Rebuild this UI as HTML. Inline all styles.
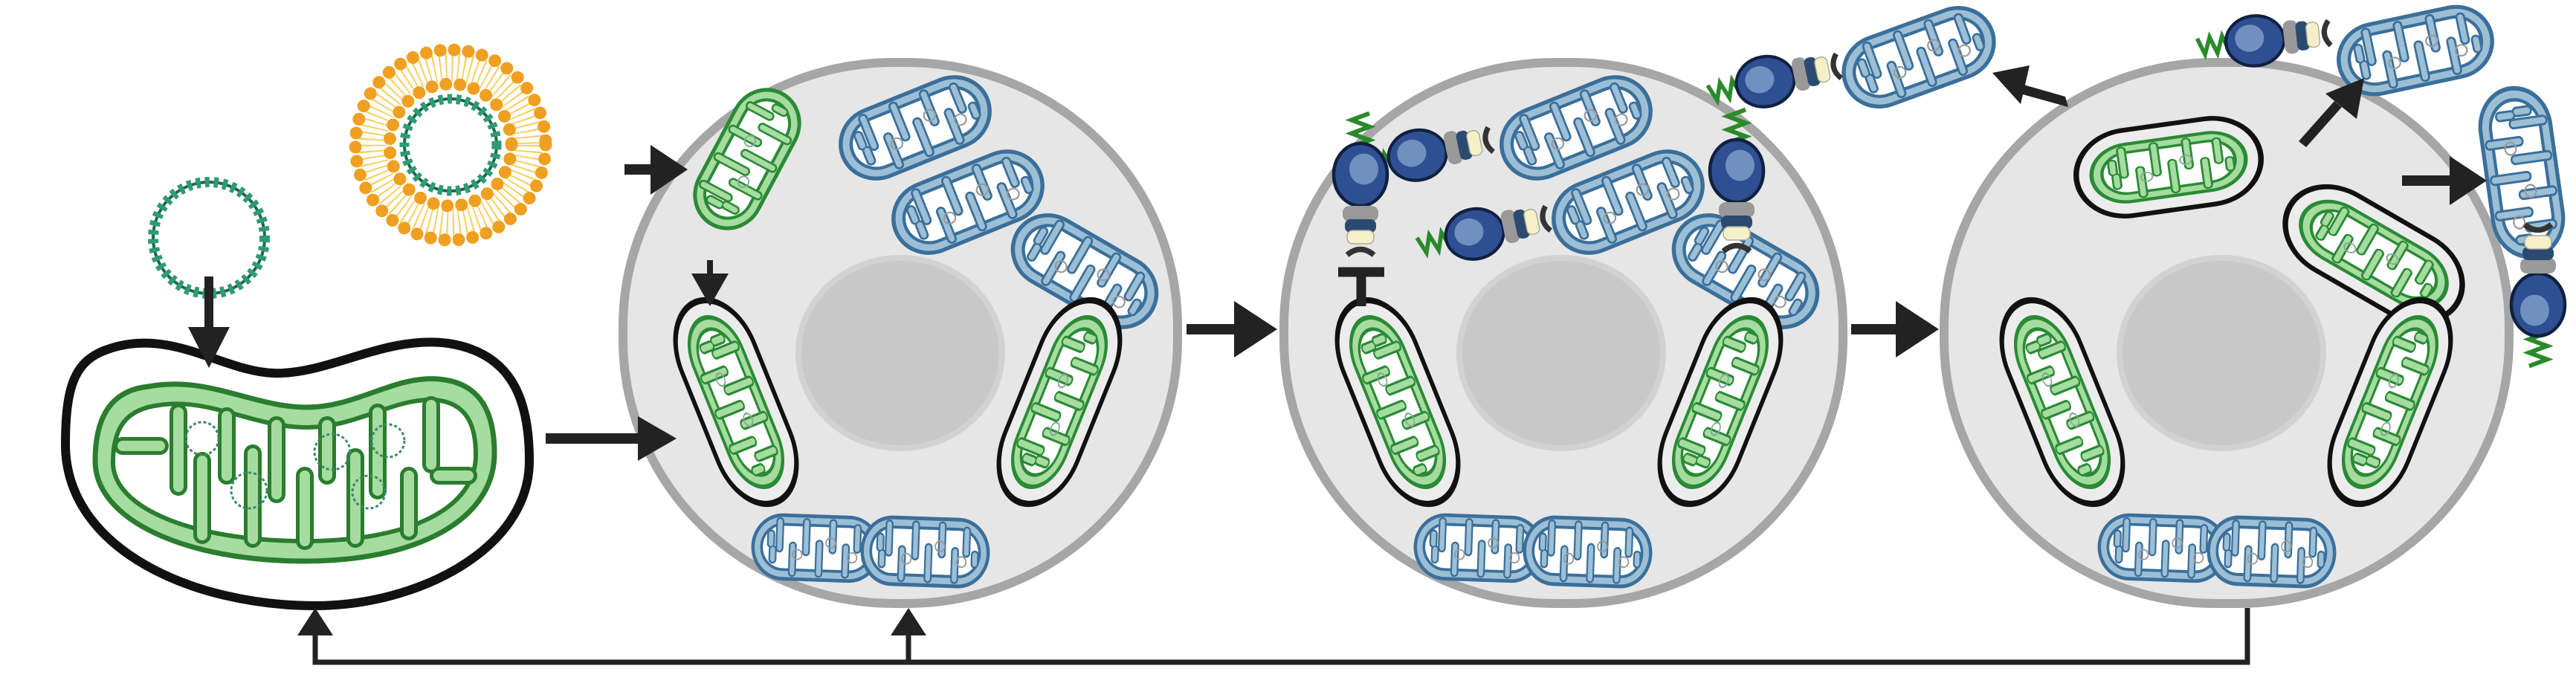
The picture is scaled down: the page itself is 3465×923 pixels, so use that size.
<!DOCTYPE html>
<html><head><meta charset="utf-8"><style>html,body{margin:0;padding:0;background:#fff}svg{display:block}</style></head>
<body>
<svg width="3465" height="923" viewBox="0 0 3465 923" xmlns="http://www.w3.org/2000/svg">
<defs>
  <g id="cri">
    <path d="M-55,-36V2M-15,-36V6M25,-36V2M62,-30V0M-68,-18V-4M-35,36V-2M5,36V-6M45,36V-2M-65,18V4M75,14V2" fill="none"/>
  </g>
  <g id="mb">
    <rect x="-95" y="-45" width="190" height="90" rx="45" fill="#9dbfd6" stroke="#3a6f9a" stroke-width="5"/>
    <rect x="-82" y="-32" width="164" height="64" rx="32" fill="#fff" stroke="#3a6f9a" stroke-width="4"/>
    <use href="#cri" stroke="#3a6f9a" stroke-width="12" stroke-linecap="round"/>
    <use href="#cri" stroke="#9dbfd6" stroke-width="7" stroke-linecap="round"/>
    <circle cx="-28" cy="10" r="7" fill="none" stroke="#999" stroke-width="2"/>
    <circle cx="22" cy="-8" r="7" fill="none" stroke="#999" stroke-width="2"/>
    <circle cx="55" cy="12" r="7" fill="none" stroke="#999" stroke-width="2"/>
  </g>
  <g id="mg">
    <rect x="-95" y="-45" width="190" height="90" rx="45" fill="#a6dca0" stroke="#2a8a35" stroke-width="5"/>
    <rect x="-82" y="-32" width="164" height="64" rx="32" fill="#fff" stroke="#2a8a35" stroke-width="4"/>
    <use href="#cri" stroke="#2a8a35" stroke-width="12" stroke-linecap="round"/>
    <use href="#cri" stroke="#a6dca0" stroke-width="7" stroke-linecap="round"/>
    <circle cx="-28" cy="10" r="7" fill="none" stroke="#8a9" stroke-width="2"/>
    <circle cx="22" cy="-8" r="7" fill="none" stroke="#8a9" stroke-width="2"/>
  </g>
  <g id="mk">
    <rect x="-100" y="-55" width="200" height="110" rx="55" fill="#ececec" stroke="#111" stroke-width="6"/>
    <use href="#mg" transform="scale(0.88,0.82)"/>
  </g>
  <g id="mdb">
    <use href="#mb" transform="translate(-70,0) scale(0.85,1)"/>
    <use href="#mb" transform="translate(70,0) scale(0.85,1.05)"/>
  </g>
  <g id="prot">
    <path d="M-75,-8l6,16l6,-16l6,16l6,-16l6,16l6,-16" fill="none" stroke="#2a8a2a" stroke-width="4"/>
    <ellipse cx="-20" cy="0" rx="28" ry="24" fill="#2e4f92" stroke="#102040" stroke-width="3"/>
    <ellipse cx="-25" cy="-3" rx="14" ry="13" fill="#7090c0"/>
    <rect x="8" y="-16" width="14" height="32" rx="6" fill="#999"/>
    <rect x="20" y="-14" width="12" height="28" rx="5" fill="#2a4a70"/>
    <rect x="30" y="-12" width="12" height="24" rx="5" fill="#f5f0c8" stroke="#aa9" stroke-width="1"/>
    <path d="M52,-12q-10,12 0,24" fill="none" stroke="#333" stroke-width="5"/>
  </g>
</defs>

<!-- cells -->
<g fill="#e6e6e6" stroke="#a6a6a6" stroke-width="12">
  <rect x="838" y="84" width="746" height="728" rx="365" ry="355"/>
  <rect x="1727" y="84" width="752" height="728" rx="365" ry="355"/>
  <rect x="2615" y="84" width="760" height="728" rx="365" ry="355"/>
</g>
<g fill="#c8c8c8" stroke="#d2d2d2" stroke-width="8">
  <ellipse cx="1211" cy="475" rx="137" ry="128"/>
  <ellipse cx="2100" cy="475" rx="137" ry="128"/>
  <ellipse cx="2988" cy="475" rx="137" ry="128"/>
</g>

<!-- cell1 mitos -->
<use href="#mg" transform="translate(1005,214) rotate(-62) scale(1.05,1)"/>
<use href="#mb" transform="translate(1231,172) rotate(-22) scale(1.1,1.05)"/>
<use href="#mb" transform="translate(1302,272) rotate(-22) scale(1.1,1.05)"/>
<use href="#mb" transform="translate(1459,365) rotate(30) scale(1.1,1.05)"/>
<use href="#mk" transform="translate(990,541) rotate(68) scale(1.45,0.95)"/>
<use href="#mk" transform="translate(1425,541) rotate(-68) scale(1.45,0.95)"/>
<use href="#mdb" transform="translate(1171,740) rotate(2) scale(1.05,0.95)"/>

<!-- cell2 mitos -->
<use href="#mb" transform="translate(2120,172) rotate(-22) scale(1.1,1.05)"/>
<use href="#mb" transform="translate(2190,272) rotate(-22) scale(1.1,1.05)"/>
<use href="#mb" transform="translate(2348,365) rotate(30) scale(1.1,1.05)"/>
<use href="#mk" transform="translate(1880,541) rotate(68) scale(1.45,0.95)"/>
<use href="#mk" transform="translate(2314,541) rotate(-68) scale(1.45,0.95)"/>
<use href="#mdb" transform="translate(2062,740) rotate(2) scale(1.05,0.95)"/>

<!-- cell3 mitos -->
<use href="#mk" transform="translate(2917,225) rotate(-8) scale(1.25,1.05)"/>
<use href="#mk" transform="translate(3193,342) rotate(30) scale(1.3,1.05)"/>
<use href="#mk" transform="translate(2774,541) rotate(68) scale(1.45,0.95)"/>
<use href="#mk" transform="translate(3215,541) rotate(-68) scale(1.45,0.95)"/>
<use href="#mdb" transform="translate(2982,740) rotate(2) scale(1.05,0.95)"/>

<!-- outside mitos -->
<use href="#mb" transform="translate(2581,77) rotate(-20) scale(1.1,1.05)"/>
<use href="#mb" transform="translate(3249,68) rotate(-12) scale(1.1,1.05)"/>
<use href="#mb" transform="translate(3392,232) rotate(82) scale(1.2,1.05)"/>

<!-- proteins -->
<use href="#prot" transform="translate(1934,203) rotate(-12) scale(1.4)"/>
<use href="#prot" transform="translate(2011,309) rotate(-12) scale(1.4)"/>
<use href="#prot" transform="translate(1830,265) rotate(90) scale(1.5)"/>
<use href="#prot" transform="translate(2336,260) rotate(90) scale(1.5)"/>
<use href="#prot" transform="translate(2402,104) rotate(-12) scale(1.4)"/>
<use href="#prot" transform="translate(3061,52) rotate(-6) scale(1.4)"/>
<use href="#prot" transform="translate(3414,380) rotate(-90) scale(1.5)"/>
<!-- inhibitor T -->
<path d="M1800,366H1862M1831,366V412" stroke="#222" stroke-width="13" fill="none"/>

<!-- big mito -->
<path d="M145,470 C230,440 300,500 368,502 C440,505 520,450 603,462 C690,475 712,540 712,620 C712,740 560,815 424,815 C260,815 90,740 88,600 C88,520 100,485 145,470 Z" fill="#fff" stroke="#111" stroke-width="12"/>
<path d="M200,520 C280,505 340,548 413,548 C480,548 530,505 590,510 C650,515 665,560 665,610 C665,700 560,755 410,755 C250,755 128,700 128,620 C128,560 150,525 200,520 Z" fill="#a6dca0" stroke="#2a7d2e" stroke-width="7"/>
<path d="M215,545 C285,535 340,575 413,575 C480,575 530,535 585,538 C630,542 640,575 640,612 C640,685 550,728 410,728 C262,728 152,685 152,622 C152,575 170,550 215,545 Z" fill="#fff" stroke="#2a7d2e" stroke-width="6"/>
<g fill="none" stroke-linecap="round">
  <path id="bc" d="M240,555V655M305,560V640M372,572V665M440,572V640M508,555V660M580,545V625M165,600H215M272,720V620M340,725V610M410,728V640M478,725V615M550,715V640M630,640H590"/>
  <use href="#bc" stroke="#2a7d2e" stroke-width="24"/>
  <use href="#bc" stroke="#a6dca0" stroke-width="14"/>
</g>
<g fill="none" stroke="#3a8a6a" stroke-width="3" stroke-dasharray="4 3">
  <circle cx="272" cy="590" r="22"/><circle cx="335" cy="660" r="24"/><circle cx="447" cy="608" r="24"/><circle cx="522" cy="593" r="22"/><circle cx="496" cy="662" r="22"/>
</g>

<!-- free DNA circle -->
<circle cx="281" cy="320" r="75" fill="none" stroke="#1f6a40" stroke-width="4"/>
<circle cx="281" cy="320" r="75" fill="none" stroke="#2e9a78" stroke-width="14" stroke-dasharray="6 6"/>

<!-- liposome -->
<circle cx="606" cy="195" r="105" fill="none" stroke="#f7cf60" stroke-width="38" stroke-dasharray="2 6"/>
<circle cx="606" cy="195" r="128" fill="none" stroke="#f0a020" stroke-width="17" stroke-dasharray="0 19" stroke-linecap="round"/>
<circle cx="606" cy="195" r="82" fill="none" stroke="#f0a020" stroke-width="17" stroke-dasharray="0 19" stroke-linecap="round"/>
<circle cx="606" cy="195" r="62" fill="none" stroke="#1f6a40" stroke-width="4"/>
<circle cx="606" cy="195" r="62" fill="none" stroke="#2e9a78" stroke-width="13" stroke-dasharray="6 6"/>

<!-- arrows -->
<g fill="#222" stroke="none">
  <rect x="275" y="372" width="12" height="75"/><polygon points="253,440 309,440 281,495"/>
  <rect x="840" y="221" width="40" height="14"/><polygon points="875,195 925,228 875,262"/>
  <rect x="734" y="583" width="130" height="14"/><polygon points="858,560 910,590 858,620"/>
  <rect x="951" y="350" width="8" height="30"/><polygon points="930,368 980,368 955,412"/>
  <rect x="1596" y="436" width="70" height="14"/><polygon points="1660,405 1718,443 1660,481"/>
  <rect x="2490" y="436" width="66" height="14"/><polygon points="2550,405 2608,443 2550,481"/>
  <polygon points="2778,130 2782,144 2710,124 2708,110"/><polygon points="2680,98 2730,88 2718,140"/>
  <polygon points="3092,190 3102,198 3150,144 3140,136"/><polygon points="3180,105 3170,160 3128,126"/>
  <rect x="3231" y="236" width="70" height="14"/><polygon points="3295,210 3345,243 3295,276"/>
</g>
<!-- feedback line -->
<path d="M3023,818V891H424V850M1222,891V850" fill="none" stroke="#222" stroke-width="7"/>
<polygon points="400,855 448,855 424,818" fill="#222"/>
<polygon points="1198,855 1246,855 1222,818" fill="#222"/>
</svg>
</body></html>
